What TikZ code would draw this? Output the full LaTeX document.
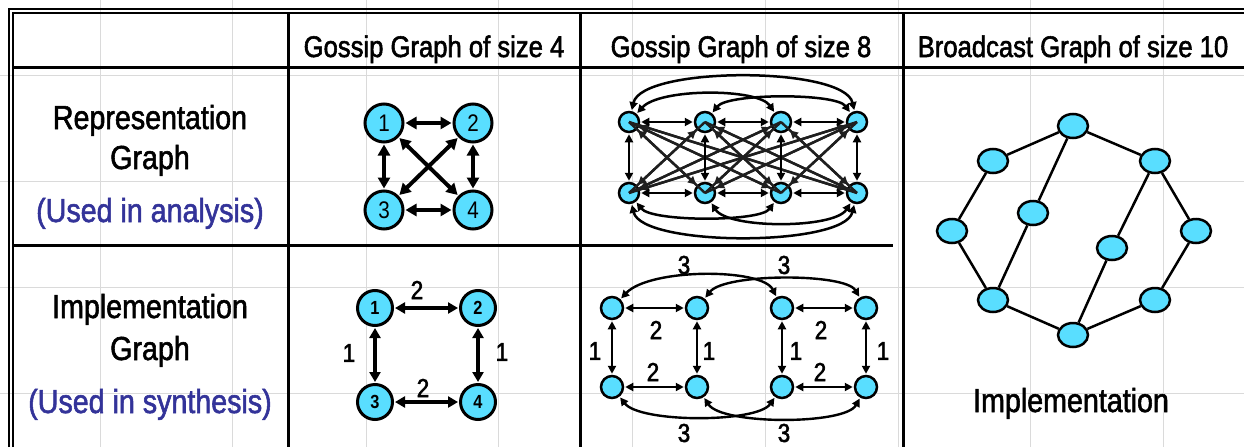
\documentclass[tikz,border=0pt]{standalone}
\usepackage{fontspec}
\setmainfont{Liberation Sans}[FakeStretch=0.86]
\usetikzlibrary{arrows.meta,shapes.geometric}
\definecolor{nodecyan}{RGB}{89,222,255}
\definecolor{labelblue}{RGB}{51,51,153}
\definecolor{gridgray}{RGB}{218,218,218}
\newcommand{\heavytext}{\special{pdf:literal direct 2 Tr 0.55 w}}
\tikzset{
  gridline/.style={draw=gridgray, line width=1pt},
  tblthick/.style={line width=3pt},
  tblthin/.style={line width=1.2pt},
  hdr/.style={anchor=base, inner sep=0pt, font=\fontsize{29.8}{31}\selectfont\heavytext},
  rowlab/.style={anchor=base, inner sep=0pt, font=\fontsize{33.3}{35}\selectfont\heavytext},
  rowblue/.style={rowlab, text=labelblue},
  bigc/.style={circle, draw, fill=nodecyan, line width=3pt, minimum size=38pt, inner sep=0pt, font=\fontsize{24}{24}\selectfont},
  implc/.style={circle, draw, fill=nodecyan, line width=3pt, minimum size=35pt, inner sep=0pt, font=\bfseries\fontsize{19}{19}\selectfont},
  smallc/.style={circle, draw, fill=nodecyan, line width=2.5pt, minimum size=20pt, inner sep=0pt},
  smallci/.style={circle, draw, fill=nodecyan, line width=2.5pt, minimum size=22pt, inner sep=0pt},
  bcast/.style={ellipse, draw, fill=nodecyan, line width=2.5pt, minimum width=30pt, minimum height=24pt, inner sep=0pt},
  elab/.style={inner sep=0pt, font=\fontsize{26}{26}\selectfont\heavytext},
  arrbig/.style={line width=4pt, {Triangle[length=11pt,width=12pt]}-{Triangle[length=11pt,width=12pt]}, shorten <=1pt, shorten >=1pt},
  arrimpl/.style={line width=3.5pt, {Triangle[length=10pt,width=11pt]}-{Triangle[length=10pt,width=11pt]}, shorten <=1pt, shorten >=1pt},
  arrsm/.style={line width=2.5pt, {Triangle[length=8pt,width=8pt]}-{Triangle[length=8pt,width=8pt]}, shorten <=1pt, shorten >=1pt},
  arrsmi/.style={line width=2.4pt, {Triangle[length=8pt,width=8pt]}-{Triangle[length=8pt,width=8pt]}, shorten <=1pt, shorten >=1pt},
  diagline/.style={draw=black!88, line width=2.4pt},
  diagarr/.style={draw=black!88, line width=2.4pt, {Triangle[length=8pt,width=8pt]}-{Triangle[length=8pt,width=8pt]}, shorten <=1pt, shorten >=1pt},
  bedge/.style={line width=2.5pt}
}
\begin{document}
\begin{tikzpicture}[x=1pt,y=-1pt]
\useasboundingbox (0,0) rectangle (1244,447);
\fill[white] (0,0) rectangle (1244,447);
% spreadsheet grid
\foreach \gx in {100,232,366,498,632,765,898,1030,1163}
  \draw[gridline] (\gx,0) -- (\gx,447);
\foreach \gy in {75,181,287,393}
  \draw[gridline] (0,\gy) -- (1244,\gy);

% table frame
\draw[tblthin] (9,447) -- (9,9) -- (1244,9);
\draw[tblthin] (13,447) -- (13,13) -- (1244,13);
\draw[tblthick] (13,67) -- (1244,67);
\draw[tblthick] (13,245) -- (893,245);
\draw[tblthick] (288,13) -- (288,447);
\draw[tblthick] (580,13) -- (580,447);
\draw[tblthick] (903,13) -- (903,447);

% headers
\node[hdr] (h4) at (434,57) {Gossip Graph of size 4};
\node[hdr] (h8) at (741,57) {Gossip Graph of size 8};
\node[hdr] (h10) at (1073,57) {Broadcast Graph of size 10};

% row labels
\node[rowlab] (rl1) at (150,129) {Representation};
\node[rowlab] (rl2) at (150,169) {Graph};
\node[rowblue] (rl3) at (150,222) {(Used in analysis)};
\node[rowlab] (il1) at (150,318) {Implementation};
\node[rowlab] (il2) at (150,360) {Graph};
\node[rowblue] (il3) at (150,413) {(Used in synthesis)};
\node[rowlab] (bimpl) at (1071,412) {Implementation};

% gossip 4 representation
\node[bigc] (g1) at (384,123) {1};
\node[bigc] (g2) at (473,123) {2};
\node[bigc] (g3) at (384,210) {3};
\node[bigc] (g4) at (473,210) {4};
\draw[arrbig] (g1) -- (g2);
\draw[arrbig] (g3) -- (g4);
\draw[arrbig] (g1) -- (g3);
\draw[arrbig] (g2) -- (g4);
\draw[arrbig] (g1) -- (g4);
\draw[arrbig] (g2) -- (g3);

% gossip 4 implementation
\node[implc] (p1) at (375,308) {1};
\node[implc] (p2) at (478,308) {2};
\node[implc] (p3) at (375,402) {3};
\node[implc] (p4) at (478,402) {4};
\draw[arrimpl] (p1) -- (p2);
\draw[arrimpl] (p3) -- (p4);
\draw[arrimpl] (p1) -- (p3);
\draw[arrimpl] (p2) -- (p4);
\node[elab] (pl12) at (417,290) {2};
\node[elab] (pl34) at (423,388) {2};
\node[elab] (pl13) at (349,353) {1};
\node[elab] (pl24) at (502,352) {1};

% gossip 8 representation
\foreach \i/\xx in {1/629,2/705,3/781,4/857}{
  \node[smallc] (rt\i) at (\xx,122) {};
  \node[smallc] (rb\i) at (\xx,193) {};
}
\foreach \i in {1,2,3,4}{
  \foreach \j in {1,2,3,4}{
    \ifnum\i=\j\else
      \draw[diagline] (rt\i.center) -- (rb\j.center);
    \fi
  }
}
\foreach \i in {1,2,3,4}{
  \foreach \j in {1,2,3,4}{
    \ifnum\i=\j\else
      \draw[diagarr] (rt\i) -- (rb\j);
    \fi
  }
}
\draw[arrsm] (rt1) -- (rt2);
\draw[arrsm] (rt2) -- (rt3);
\draw[arrsm] (rt3) -- (rt4);
\draw[arrsm] (rb1) -- (rb2);
\draw[arrsm] (rb2) -- (rb3);
\draw[arrsm] (rb3) -- (rb4);
\draw[arrsm] (rt1) -- (rb1);
\draw[arrsm] (rt2) -- (rb2);
\draw[arrsm] (rt3) -- (rb3);
\draw[arrsm] (rt4) -- (rb4);
\draw[arrsm] (rt1) .. controls (642,66) and (844,66) .. (rt4);
\draw[arrsm] (rt1) .. controls (660,88) and (758,88) .. (rt3);
\draw[arrsm] (rt2) .. controls (728,93) and (836,93) .. (rt4);
\draw[arrsm] (rb1) .. controls (642,247) and (844,247) .. (rb4);
\draw[arrsm] (rb1) .. controls (652,222) and (760,222) .. (rb3);
\draw[arrsm] (rb2) .. controls (728,229) and (834,229) .. (rb4);

% gossip 8 implementation
\foreach \i/\xx in {1/612,2/697,3/782,4/866}{
  \node[smallci] (it\i) at (\xx,308) {};
  \node[smallci] (ib\i) at (\xx,387) {};
}
\draw[arrsmi] (it1) -- (it2);
\draw[arrsmi] (it3) -- (it4);
\draw[arrsmi] (ib1) -- (ib2);
\draw[arrsmi] (ib3) -- (ib4);
\draw[arrsmi] (it1) -- (ib1);
\draw[arrsmi] (it2) -- (ib2);
\draw[arrsmi] (it3) -- (ib3);
\draw[arrsmi] (it4) -- (ib4);
\draw[arrsmi] (it1) .. controls (650,268) and (762,268) .. (it3);
\draw[arrsmi] (it2) .. controls (725,273) and (845,273) .. (it4);
\draw[arrsmi] (ib1) .. controls (640,423) and (757,423) .. (ib3);
\draw[arrsmi] (ib2) .. controls (722,425) and (845,425) .. (ib4);
\node[elab] (q3a) at (684,265) {3};
\node[elab] (q3b) at (784,265) {3};
\node[elab] (q3c) at (684,433) {3};
\node[elab] (q3d) at (784,433) {3};
\node[elab] (q2a) at (656,330) {2};
\node[elab] (q2b) at (653,372) {2};
\node[elab] (q2c) at (821,330) {2};
\node[elab] (q2d) at (820,372) {2};
\node[elab] (q1a) at (595,351) {1};
\node[elab] (q1b) at (709,351) {1};
\node[elab] (q1c) at (796,351) {1};
\node[elab] (q1d) at (883,351) {1};

% broadcast graph
\node[bcast] (bA) at (1073,126) {};
\node[bcast] (bB) at (993,161) {};
\node[bcast] (bC) at (1155,161) {};
\node[bcast] (bD) at (952,231) {};
\node[bcast] (bE) at (1033,213) {};
\node[bcast] (bF) at (1112,248) {};
\node[bcast] (bG) at (1196,231) {};
\node[bcast] (bH) at (993,300) {};
\node[bcast] (bI) at (1155,300) {};
\node[bcast] (bJ) at (1073,335) {};
\draw[bedge] (bA) -- (bB);
\draw[bedge] (bA) -- (bC);
\draw[bedge] (bA) -- (bE);
\draw[bedge] (bB) -- (bD);
\draw[bedge] (bD) -- (bH);
\draw[bedge] (bE) -- (bH);
\draw[bedge] (bH) -- (bJ);
\draw[bedge] (bJ) -- (bI);
\draw[bedge] (bI) -- (bG);
\draw[bedge] (bG) -- (bC);
\draw[bedge] (bC) -- (bF);
\draw[bedge] (bF) -- (bJ);
\end{tikzpicture}
\end{document}
